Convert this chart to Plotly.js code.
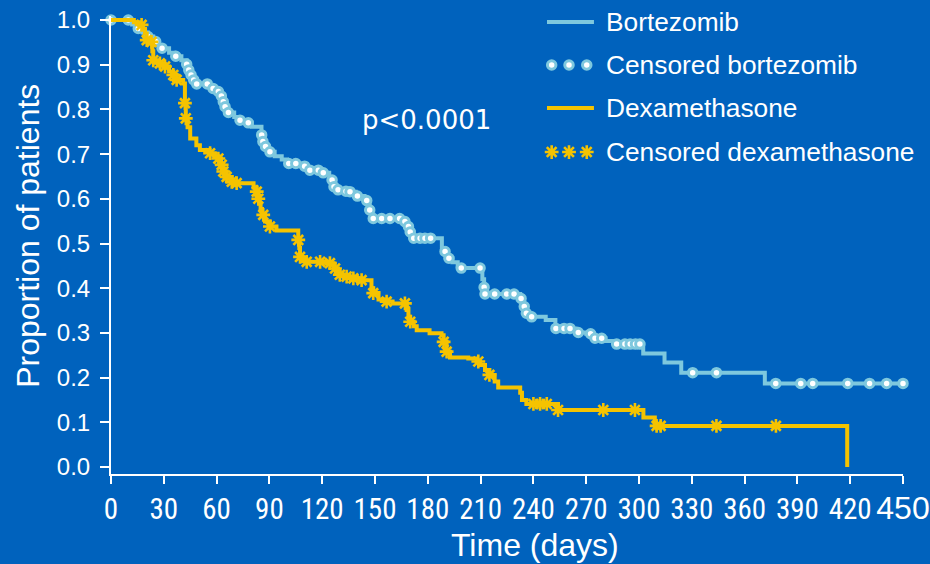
<!DOCTYPE html>
<html>
<head>
<meta charset="utf-8">
<script src="https://cdn.plot.ly/plotly-3.0.1.min.js"></script>
<style>
  html, body { margin: 0; padding: 0; background: #0062bd; }
  #chart { width: 930px; height: 564px; }
</style>
</head>
<body>
<div id="chart"></div>
<script>
// Kaplan-Meier estimates: event times (days) and survival after each event
const bortTime = [0, 12, 15, 18, 21, 24, 27, 29, 33, 36, 40, 43, 44, 45, 46.5, 48.5, 56, 58, 60.5, 62.5,
  63.5, 64.5, 66.5, 70, 73, 76, 80, 85.5, 86, 87.5, 89.5, 93, 97, 100, 108, 112, 120, 124, 125.5, 126.5,
  128.5, 133, 135.5, 139, 144, 146, 147, 148, 149, 166, 168.5, 170, 172, 188, 189.5, 191.5, 194, 197, 199,
  211, 212, 212.5, 232.5, 234.5, 236, 238.5, 247, 252.5, 264, 270, 274.5, 281, 286, 302.4, 314.5, 324, 371.5];
const bortSurv = [1.000, 0.990, 0.981, 0.972, 0.963, 0.952, 0.944, 0.937, 0.927, 0.919, 0.910, 0.901, 0.888,
  0.877, 0.866, 0.857, 0.851, 0.847, 0.840, 0.830, 0.817, 0.806, 0.793, 0.783, 0.776, 0.770, 0.761, 0.743,
  0.728, 0.717, 0.705, 0.695, 0.688, 0.679, 0.673, 0.664, 0.658, 0.648, 0.642, 0.627, 0.620, 0.617, 0.616,
  0.606, 0.596, 0.585, 0.575, 0.565, 0.556, 0.549, 0.538, 0.526, 0.512, 0.490, 0.482, 0.467, 0.458, 0.450,
  0.445, 0.420, 0.402, 0.387, 0.377, 0.359, 0.344, 0.336, 0.329, 0.310, 0.301, 0.298, 0.288, 0.282, 0.275,
  0.254, 0.234, 0.211, 0.187];
// Censored follow-up times (days)
const bortCensor = [0, 9.8, 15.5, 21, 25.4, 29, 36.8, 43, 44.2, 45.5, 47, 48.7, 54.7, 58, 61, 62.7, 63.8, 64.8,
  66.7, 73.3, 78, 85.6, 86.3, 87.8, 90.3, 101, 105, 110, 113, 117.8, 120.6, 125.6, 126.7, 129, 133.5, 135.8,
  140, 145.3, 147, 149, 153.8, 158.5, 164, 167, 169, 170, 172, 175.6, 178.4, 181.6, 189.8, 192, 199, 209.7,
  212, 212.5, 218, 224.8, 229, 233, 234.8, 236, 239, 252.8, 257.4, 260.8, 265.5, 272.5, 275, 278.8, 287.3,
  292, 295, 298, 300.5, 330.5, 344, 377.7, 391.9, 398.7, 418.6, 431, 440.7, 450];

const dexTime = [0, 13, 16, 18, 19.3, 20.3, 23, 23.5, 24, 27, 30, 33, 35.4, 37.3, 41, 42, 42.5, 43.5, 45, 48.5,
  50.5, 56, 59, 61, 62.5, 63.8, 65.7, 68.6, 71.4, 81, 82.8, 83.7, 84.3, 85, 85.8, 87.5, 90.3, 94, 106.4, 107,
  107.4, 109, 111, 122.5, 126.3, 127, 129, 130, 133.9, 137.6, 142.4, 148, 149, 152, 156.6, 160, 168, 169, 170,
  172, 173.7, 181, 187.8, 189, 190.7, 192.6, 203, 207.8, 209.7, 212.5, 215, 218, 220, 232.5, 233.5, 236, 254,
  302.5, 309, 418.3];
const dexSurv = [1.000, 0.995, 0.989, 0.980, 0.970, 0.955, 0.951, 0.930, 0.910, 0.903, 0.896, 0.885, 0.877,
  0.866, 0.858, 0.814, 0.780, 0.760, 0.735, 0.720, 0.709, 0.702, 0.695, 0.690, 0.676, 0.661, 0.649, 0.638,
  0.635, 0.625, 0.616, 0.600, 0.590, 0.577, 0.564, 0.549, 0.538, 0.529, 0.508, 0.490, 0.470, 0.465, 0.459,
  0.456, 0.452, 0.444, 0.437, 0.430, 0.426, 0.422, 0.418, 0.400, 0.389, 0.375, 0.370, 0.366, 0.351, 0.336,
  0.325, 0.315, 0.306, 0.299, 0.295, 0.280, 0.258, 0.245, 0.243, 0.236, 0.228, 0.217, 0.206, 0.191, 0.178,
  0.166, 0.150, 0.141, 0.1275, 0.111, 0.092, 0];
const dexCensor = [17.4, 20.3, 23, 24, 27.8, 30.7, 35.4, 37.3, 42, 42.5, 56.3, 61, 62.9, 63.8, 65.7, 68.6,
  71.4, 82.8, 83.7, 86.5, 90.3, 106.4, 107.4, 111.2, 118.8, 124.4, 127.3, 130, 133.9, 137.7, 142.4, 149,
  156.6, 167, 170, 189, 190.7, 208.7, 215, 240, 243.8, 247.6, 254, 279.7, 297.7, 310, 312.3, 344, 377.8];

const xTicks = [0, 30, 60, 90, 120, 150, 180, 210, 240, 270, 300, 330, 360, 390, 420, 450];
const yTicks = [0, 0.1, 0.2, 0.3, 0.4, 0.5, 0.6, 0.7, 0.8, 0.9, 1.0];
const pLabel = 'p<0.0001';
const xTitle = 'Time (days)';
const yTitle = 'Proportion of patients';
const legendLabels = ['Bortezomib', 'Censored bortezomib', 'Dexamethasone', 'Censored dexamethasone'];

const BG = '#0062bd';
const BLUE = '#7ec8de';
const GOLD = '#f5c300';
const WHITE = '#ffffff';
const SANS = 'Liberation Sans, Arial, sans-serif';

// survival estimate in effect at time t (right-continuous step function)
function survAt(times, surv, t) {
  let s = surv[0];
  for (let i = 0; i < times.length; i++) { if (times[i] <= t) s = surv[i]; else break; }
  return s;
}

// extend a curve horizontally to its last follow-up time
function curve(times, surv, censor) {
  const last = Math.max(...censor);
  const x = times.slice(), y = surv.slice();
  if (last > x[x.length - 1] && y[y.length - 1] > 0) { x.push(last); y.push(y[y.length - 1]); }
  return { x, y };
}

const bortCurve = curve(bortTime, bortSurv, bortCensor);
const dexCurve = curve(dexTime, dexSurv, dexCensor);

const circleMarker = { symbol: 'circle', size: 8.5, color: WHITE, line: { color: BLUE, width: 3 } };
const starMarker = { symbol: 'asterisk-open', size: 11.5, color: GOLD, line: { color: GOLD, width: 2.6 } };

const traces = [
  { x: bortCurve.x, y: bortCurve.y, mode: 'lines', line: { shape: 'hv', color: BLUE, width: 4 },
    cliponaxis: false },
  { x: bortCensor, y: bortCensor.map(t => survAt(bortTime, bortSurv, t)), mode: 'markers',
    marker: circleMarker, cliponaxis: false },
  { x: dexCurve.x, y: dexCurve.y, mode: 'lines', line: { shape: 'hv', color: GOLD, width: 4 },
    cliponaxis: false },
  { x: dexCensor, y: dexCensor.map(t => survAt(dexTime, dexSurv, t)), mode: 'markers',
    marker: starMarker, cliponaxis: false }
];

// key drawn on a unit overlay axis
const keyRows = [0.987, 0.893, 0.799, 0.703];
const keyX0 = 0.5505, keyX1 = 0.6098, keyText = 0.623;
const keyDots = [0.5564, 0.5783, 0.6007];
traces.push(
  { x: [keyX0, keyX1], y: [keyRows[0], keyRows[0]], xaxis: 'x2', yaxis: 'y2', mode: 'lines',
    line: { color: BLUE, width: 4 }, cliponaxis: false },
  { x: keyDots, y: keyDots.map(() => keyRows[1]), xaxis: 'x2', yaxis: 'y2', mode: 'markers',
    marker: circleMarker, cliponaxis: false },
  { x: [keyX0, keyX1], y: [keyRows[2], keyRows[2]], xaxis: 'x2', yaxis: 'y2', mode: 'lines',
    line: { color: GOLD, width: 4 }, cliponaxis: false },
  { x: keyDots, y: keyDots.map(() => keyRows[3]), xaxis: 'x2', yaxis: 'y2', mode: 'markers',
    marker: starMarker, cliponaxis: false }
);

const xTickText = xTicks.map(v => v === 450
  ? '<span style="font-family:Liberation Sans, Arial, sans-serif;font-size:32px">450</span>'
  : String(v));

const annotations = legendLabels.map((txt, i) => ({
  xref: 'paper', yref: 'paper', x: keyText, y: keyRows[i], xanchor: 'left', yanchor: 'middle',
  text: txt, showarrow: false, font: { family: SANS, size: 26.3, color: WHITE }
}));
annotations.push({
  xref: 'x', yref: 'y', x: 179.5, y: 0.776, text: pLabel, showarrow: false,
  xanchor: 'center', yanchor: 'middle',
  font: { family: 'DejaVu Sans, sans-serif', size: 26, color: WHITE }
});
// horizontal axis title, set slightly right of the plot centre
annotations.push({
  xref: 'paper', yref: 'paper', x: 0.5355, y: -0.155, text: xTitle, showarrow: false,
  xanchor: 'center', yanchor: 'middle', font: { family: SANS, size: 32, color: WHITE }
});
// vertical axis title, set slightly above the plot centre
annotations.push({
  xref: 'paper', yref: 'paper', x: -0.1048, y: 0.52, text: yTitle, showarrow: false, textangle: -90,
  xanchor: 'center', yanchor: 'middle', font: { family: SANS, size: 32, color: WHITE }
});

const layout = {
  width: 930, height: 564,
  margin: { l: 111, r: 27, t: 16, b: 90 },
  paper_bgcolor: BG, plot_bgcolor: BG,
  showlegend: false,
  xaxis: {
    range: [0, 450], showgrid: false, zeroline: false,
    showline: true, linecolor: WHITE, linewidth: 2,
    ticks: 'outside', ticklen: 8, tickwidth: 2, tickcolor: WHITE,
    tickvals: xTicks, ticktext: xTickText, tickangle: 0,
    tickfont: { family: 'Roboto Condensed, Liberation Sans, sans-serif', size: 29, color: WHITE }
  },
  yaxis: {
    range: [-7 / 447, 1 + 4 / 447], showgrid: false, zeroline: false,
    showline: true, linecolor: WHITE, linewidth: 2,
    ticks: 'outside', ticklen: 9, tickwidth: 2, tickcolor: WHITE, ticklabelstandoff: 5,
    tickvals: yTicks, ticktext: yTicks.map(v => v.toFixed(1)),
    tickfont: { family: SANS, size: 24, color: WHITE }
  },
  xaxis2: { overlaying: 'x', range: [0, 1], visible: false },
  yaxis2: { overlaying: 'y', range: [0, 1], visible: false },
  annotations: annotations
};

Plotly.newPlot('chart', traces, layout, { displayModeBar: false, staticPlot: true });
</script>
</body>
</html>
